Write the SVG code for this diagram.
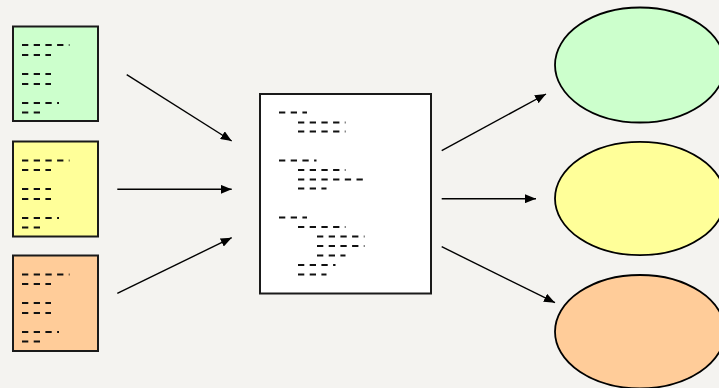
<svg xmlns="http://www.w3.org/2000/svg" width="719" height="388" viewBox="0 0 719 388">
  <style>
    .doc { stroke: #1a1a1a; stroke-width: 2; }
    .d { stroke: #111; stroke-width: 2; stroke-dasharray: 6.3 5.4; fill: none; }
    .el { stroke: #000; stroke-width: 1.8; }
    .conn { stroke: #000; stroke-width: 1.4; fill: none; marker-end: url(#ah); }
  </style>
  <defs>
    <marker id="ah" markerWidth="11" markerHeight="9" refX="11" refY="4.5" orient="auto" markerUnits="userSpaceOnUse">
      <path d="M0,0 L11,4.5 L0,9 Z" fill="#000"/>
    </marker>
  </defs>
  <rect width="719" height="388" fill="#F4F3F0"/>

  <g id="doc1">
    <rect class="doc" x="13" y="26.5" width="85" height="94.5" fill="#CCFFCC"/>
    <line class="d" x1="22" y1="45" x2="69.5" y2="45"/>
    <line class="d" x1="22" y1="55" x2="51" y2="55"/>
    <line class="d" x1="22" y1="74" x2="51" y2="74"/>
    <line class="d" x1="22" y1="84" x2="51" y2="84"/>
    <line class="d" x1="22" y1="103" x2="59" y2="103"/>
    <line class="d" x1="22" y1="112.5" x2="40" y2="112.5"/>
  </g>
  <g id="doc2">
    <rect class="doc" x="13" y="141.5" width="85" height="95" fill="#FFFF99"/>
    <line class="d" x1="22" y1="160.5" x2="69.5" y2="160.5"/>
    <line class="d" x1="22" y1="170" x2="51" y2="170"/>
    <line class="d" x1="22" y1="189" x2="51" y2="189"/>
    <line class="d" x1="22" y1="199" x2="51" y2="199"/>
    <line class="d" x1="22" y1="218" x2="59" y2="218"/>
    <line class="d" x1="22" y1="227.5" x2="40" y2="227.5"/>
  </g>
  <g id="doc3">
    <rect class="doc" x="13" y="255.5" width="85" height="95.5" fill="#FFCC99"/>
    <line class="d" x1="22" y1="274.5" x2="69.5" y2="274.5"/>
    <line class="d" x1="22" y1="284" x2="51" y2="284"/>
    <line class="d" x1="22" y1="303" x2="51" y2="303"/>
    <line class="d" x1="22" y1="313" x2="51" y2="313"/>
    <line class="d" x1="22" y1="332" x2="59" y2="332"/>
    <line class="d" x1="22" y1="341.5" x2="40" y2="341.5"/>
  </g>

  <g id="process">
    <rect class="doc" x="260" y="94" width="171" height="199.5" fill="#FFFFFF"/>
    <line class="d" x1="279" y1="112.5" x2="307" y2="112.5"/>
    <line class="d" x1="298" y1="122.5" x2="345.5" y2="122.5"/>
    <line class="d" x1="298" y1="131.5" x2="345.5" y2="131.5"/>
    <line class="d" x1="279" y1="160.5" x2="316.5" y2="160.5"/>
    <line class="d" x1="298" y1="170" x2="345.5" y2="170"/>
    <line class="d" x1="298" y1="179.5" x2="364" y2="179.5"/>
    <line class="d" x1="298" y1="188.5" x2="326.5" y2="188.5"/>
    <line class="d" x1="279" y1="217.5" x2="307" y2="217.5"/>
    <line class="d" x1="298" y1="227" x2="345.5" y2="227"/>
    <line class="d" x1="317" y1="236.5" x2="364.5" y2="236.5"/>
    <line class="d" x1="317" y1="246" x2="364.5" y2="246"/>
    <line class="d" x1="317" y1="255.5" x2="345.5" y2="255.5"/>
    <line class="d" x1="298" y1="265" x2="335.5" y2="265"/>
    <line class="d" x1="298" y1="274.5" x2="326.5" y2="274.5"/>
  </g>

  <g id="out1"><ellipse class="el" cx="640" cy="65" rx="85" ry="57.5" fill="#CCFFCC"/></g>
  <g id="out2"><ellipse class="el" cx="640" cy="198.5" rx="85" ry="56.7" fill="#FFFF99"/></g>
  <g id="out3"><ellipse class="el" cx="640" cy="331.7" rx="85" ry="56.7" fill="#FFCC99"/></g>

  <g id="connectors">
    <line class="conn" x1="126.7" y1="74.7" x2="231.7" y2="141"/>
    <line class="conn" x1="117.3" y1="189.3" x2="231.7" y2="189.3"/>
    <line class="conn" x1="117.3" y1="293.3" x2="231.7" y2="237.7"/>
    <line class="conn" x1="441.7" y1="150.7" x2="546" y2="94"/>
    <line class="conn" x1="441.7" y1="198.7" x2="536" y2="198.7"/>
    <line class="conn" x1="441.7" y1="246.7" x2="555" y2="302.7"/>
  </g>
</svg>
